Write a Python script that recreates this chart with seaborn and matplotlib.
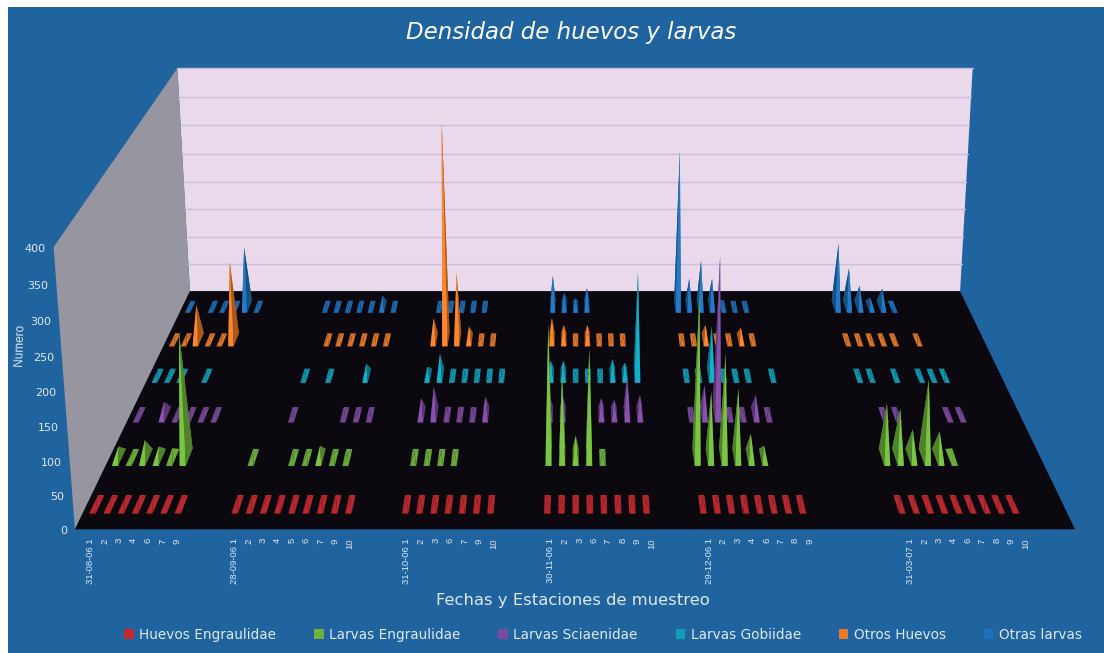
import matplotlib
matplotlib.use("Agg")
import matplotlib.pyplot as plt
import seaborn as sns
from matplotlib.patches import Patch, Rectangle
from mpl_toolkits.mplot3d import proj3d
from mpl_toolkits.mplot3d.art3d import Poly3DCollection

# Fechas, estaciones y posicion de arranque de cada grupo
dates = ["31-08-06", "28-09-06", "31-10-06", "30-11-06", "29-12-06", "31-03-07"]
stations = [
    [1, 2, 3, 4, 6, 7, 9],
    [1, 2, 3, 4, 5, 6, 7, 9, 10],
    [1, 2, 3, 6, 7, 9, 10],
    [1, 2, 3, 6, 7, 8, 9, 10],
    [1, 2, 3, 4, 6, 7, 8, 9],
    [1, 2, 3, 4, 6, 7, 8, 9, 10],
]
group_start = [0, 10, 22, 32, 43, 57]
n_slots = 70

series_names = ["Huevos Engraulidae", "Larvas Engraulidae", "Larvas Sciaenidae",
                "Larvas Gobiidae", "Otros Huevos", "Otras larvas"]
series_colors = ["#c22a30", "#6fb33c", "#7c4a9e", "#0f9fb8", "#ea7a28", "#1f70b8"]
z_ticks = [0, 50, 100, 150, 200, 250, 300, 350, 400]

# Valores por grupo (0 = sin dato)
huevos_engraulidae = [
    [9, 8, 8, 9, 8, 8, 9],
    [6, 8, 8, 8, 8, 8, 8, 8, 8],
    [8, 8, 8, 8, 8, 8, 8],
    [8, 8, 8, 8, 8, 8, 8, 8],
    [8, 8, 8, 8, 8, 8, 8, 8],
    [8, 8, 8, 8, 8, 8, 8, 8, 8],
]
larvas_engraulidae = [
    [17, 6, 27, 17, 14, 194, 0],
    [6, 0, 0, 6, 6, 18, 6, 6, 0],
    [7, 7, 7, 7, 0, 0, 0],
    [205, 128, 34, 168, 7, 0, 0, 0],
    [250, 102, 160, 107, 37, 18, 0, 0],
    [84, 76, 44, 121, 41, 14, 0, 0, 0],
]
larvas_sciaenidae = [
    [5, 0, 21, 6, 6, 6, 6],
    [0, 0, 5, 0, 0, 0, 5, 5, 5],
    [27, 45, 13, 13, 10, 29, 0],
    [30, 30, 0, 0, 27, 24, 61, 32],
    [8, 48, 252, 10, 8, 32, 10, 0],
    [0, 5, 5, 0, 0, 0, 5, 5, 0],
]
larvas_gobiidae = [
    [5, 5, 8, 0, 5, 0, 0],
    [0, 0, 5, 0, 5, 0, 0, 20, 0],
    [15, 37, 7, 5, 5, 5, 5],
    [25, 25, 5, 5, 8, 28, 22, 172],
    [5, 10, 84, 5, 5, 5, 0, 5],
    [5, 5, 0, 5, 0, 5, 5, 5, 0],
]
otros_huevos = [
    [4, 4, 61, 4, 4, 134, 0],
    [0, 0, 0, 5, 5, 5, 5, 5, 5],
    [38, 369, 117, 23, 6, 6, 0],
    [38, 26, 6, 26, 6, 5, 6, 0],
    [5, 5, 26, 5, 6, 21, 5, 0],
    [4, 4, 4, 4, 4, 0, 4, 0, 0],
]
otras_larvas = [
    [8, 0, 3, 3, 3, 107, 3],
    [0, 0, 3, 3, 3, 3, 3, 20, 3],
    [4, 4, 4, 4, 4, 0, 0],
    [56, 25, 15, 34, 0, 0, 0, 0],
    [277, 51, 83, 51, 12, 6, 8, 0],
    [114, 69, 38, 16, 33, 11, 0, 0, 0],
]
all_series = [huevos_engraulidae, larvas_engraulidae, larvas_sciaenidae,
              larvas_gobiidae, otros_huevos, otras_larvas]

BLUE = "#1f639f"
TXT = "#dfe8f2"
W, H = 1104, 653


def shade(color, k):
    r, g, b = matplotlib.colors.to_rgb(color)
    return (min(r * k, 1), min(g * k, 1), min(b * k, 1))


def pyramid(x, y, v, hw=0.23, hd=0.19):
    a = (x, y, v)
    fl, fr = (x - hw, y - hd, 0), (x + hw, y - hd, 0)
    bl, br = (x - hw, y + hd, 0), (x + hw, y + hd, 0)
    return [[bl, br, a], [fl, bl, a], [fr, br, a], [fl, fr, a]]


sns.set_theme(style="white")
plt.rcParams["font.family"] = ["DejaVu Sans"]

fig = plt.figure(figsize=(W / 100, H / 100), dpi=100, facecolor="white")
fig.add_artist(Rectangle((8 / W, 0), 1, 1 - 7 / H, transform=fig.transFigure,
                         facecolor=BLUE, edgecolor="none", zorder=-5))

# cuadro 3D grande: la proyeccion se ajusto al trapecio del suelo
S = 1223
ax = fig.add_axes([(575 - S * 0.5135) / W, (380.5 - S * 0.5135) / H, S / W, S / H],
                  projection="3d", computed_zorder=False)
ax.patch.set_visible(False)
ax.set_axis_off()
ax.set_proj_type("persp", focal_length=0.35)
ax.view_init(elev=18.6, azim=-90)
ax.set_xlim(0, n_slots, view_margin=0)
ax.set_ylim(0, 6, view_margin=0)
ax.set_zlim(0, 400, view_margin=0)
ax.set_box_aspect((1, 0.729, 0.2966), zoom=0.895)
M = ax.get_proj()

# paredes y suelo
zmax = z_ticks[-1]
ax.add_collection3d(Poly3DCollection([[(0, 6, 0), (n_slots, 6, 0), (n_slots, 6, zmax), (0, 6, zmax)]],
                                     facecolors="#ead9ea", edgecolors="none", zorder=1))
ax.add_collection3d(Poly3DCollection([[(0, 0, 0), (0, 6, 0), (0, 6, zmax), (0, 0, zmax)]],
                                     facecolors="#97959f", edgecolors="none", zorder=2))
for t in z_ticks[1:]:
    ax.plot([0, n_slots], [6, 6], [t, t], color="#c9bbdc", lw=1.0, zorder=3)
ax.add_collection3d(Poly3DCollection([[(0, 0, 0), (n_slots, 0, 0), (n_slots, 6, 0), (0, 6, 0)]],
                                     facecolors="#0b0810", edgecolors="none", zorder=4))

# piramides, de la fila del fondo a la del frente
for r in range(5, -1, -1):
    faces, colors = [], []
    c = series_colors[r]
    for g, vals in enumerate(all_series[r]):
        for k, v in enumerate(vals):
            if v == 0:
                continue
            x = (group_start[g] + k + 0.7) * 1.01
            faces += pyramid(x, r + 0.5, v)
            if v < 15:
                # casi plana: se ve como una baldosa de un solo tono
                colors += [shade(c, 0.95)] * 4
            else:
                colors += [shade(c, 0.85), shade(c, 0.72), shade(c, 0.72), shade(c, 1.1)]
    ax.add_collection3d(Poly3DCollection(faces, facecolors=colors, edgecolors="none",
                                         zorder=10 + (5 - r)))

# etiquetas del eje Z
for t in z_ticks:
    px, py, _ = proj3d.proj_transform(-0.55, 0, t - 3, M)
    ax.text2D(px, py, str(t), ha="right", va="center", transform=ax.transData,
              color=TXT, fontsize=8)

# etiquetas de fechas y estaciones, siempre verticales
for g, st in enumerate(stations):
    for k, s in enumerate(st):
        i = group_start[g] + k
        lab = f"{dates[g]} {s}" if k == 0 else str(s)
        px, py, _ = proj3d.proj_transform(i * 1.008 + 1.05, 0, -13, M)
        ax.text2D(px, py, lab, rotation=90, ha="center", va="top", transform=ax.transData,
                  color=TXT, fontsize=6.8, family="Liberation Sans")

fig.text(571 / W, 1 - 33 / H, "Densidad de huevos y larvas", color="white", fontsize=16.5,
         style="italic", ha="center", va="center")
fig.text(573 / W, 1 - 600 / H, "Fechas y Estaciones de muestreo", color=TXT, fontsize=11.8,
         ha="center", va="center")
fig.text(20 / W, 1 - 345 / H, "Numero", color=TXT, fontsize=8.5, rotation=88,
         ha="center", va="center", family="Liberation Sans")

handles = [Patch(facecolor=c, edgecolor="none") for c in series_colors]
fig.legend(handles, series_names, loc="center", bbox_to_anchor=(603 / W, 1 - 635 / H), ncol=6,
           frameon=False, fontsize=9.8, labelcolor=TXT, handlelength=0.7, handleheight=0.7,
           handletextpad=0.4, columnspacing=2.78)

fig.savefig("out.png", dpi=100)
